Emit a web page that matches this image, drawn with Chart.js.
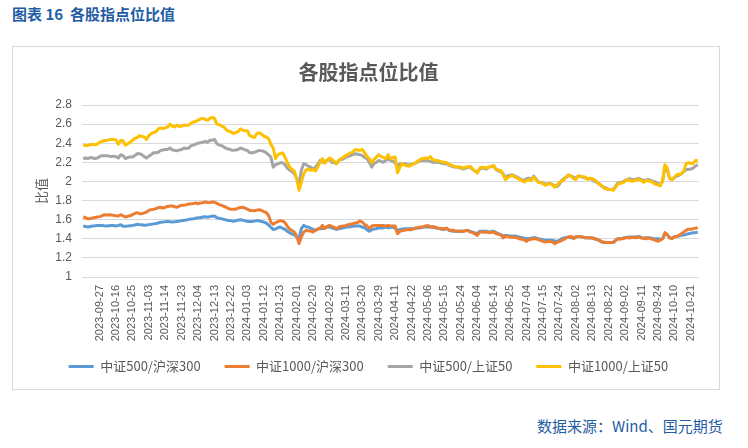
<!DOCTYPE html>
<html>
<head>
<meta charset="utf-8">
<script src="https://cdn.jsdelivr.net/npm/chart.js@4"></script>
<style>
  body { margin: 0; background: #fff; width: 748px; height: 448px; position: relative; overflow: hidden; }
  #hd { position: absolute; left: 12px; top: 3px; font: bold 15px "Noto Sans CJK SC", sans-serif; color: #1f5ca3; white-space: pre; }
  #box { position: absolute; left: 12px; top: 46px; width: 706px; height: 342px; border: 1px solid #d9d9d9; }
  #ft { position: absolute; left: 537px; top: 415px; font: 15px "Noto Sans CJK SC", sans-serif; color: #1f5ca3; }
</style>
</head>
<body>
<div id="hd">图表 16  各股指点位比值</div>
<div id="box"><canvas id="myChart" width="706" height="342"></canvas></div>
<div id="ft">数据来源：Wind、国元期货</div>
<script>
// 横轴每 7 个交易日标一个日期（第一个标签前还有 7 个交易日）
const tickLabels = ['2023-09-27', '2023-10-16', '2023-10-25', '2023-11-03', '2023-11-14', '2023-11-23', '2023-12-04',
  '2023-12-13', '2023-12-22', '2024-01-03', '2024-01-12', '2024-01-23', '2024-02-01', '2024-02-20', '2024-02-29',
  '2024-03-11', '2024-03-20', '2024-03-29', '2024-04-11', '2024-04-22', '2024-05-06', '2024-05-15', '2024-05-24',
  '2024-06-04', '2024-06-14', '2024-06-25', '2024-07-04', '2024-07-15', '2024-07-24', '2024-08-02', '2024-08-13',
  '2024-08-22', '2024-09-02', '2024-09-11', '2024-09-24', '2024-10-10', '2024-10-21'];
const firstTick = 7;
const tickStep = 7;

const seriesNames = ['中证500/沪深300', '中证1000/沪深300', '中证500/上证50', '中证1000/上证50'];
const seriesColors = ['#5B9BD5', '#ED7D31', '#A5A5A5', '#FFC000'];

// 中证500/沪深300
const zz500_hs300 = [
  1.533,1.528,1.523,1.528,1.533,1.536,1.540,1.538,1.540,1.536,
  1.533,1.537,1.540,1.538,1.533,1.540,1.547,1.530,1.532,1.533,
  1.537,1.540,1.545,1.551,1.548,1.547,1.540,1.545,1.548,1.551,
  1.556,1.560,1.565,1.573,1.575,1.578,1.582,1.577,1.575,1.578,
  1.582,1.585,1.588,1.593,1.597,1.603,1.607,1.610,1.615,1.620,
  1.620,1.628,1.631,1.625,1.632,1.636,1.638,1.620,1.614,1.610,
  1.603,1.596,1.592,1.590,1.582,1.588,1.595,1.600,1.595,1.588,
  1.582,1.582,1.580,1.585,1.590,1.588,1.580,1.575,1.565,1.545,
  1.520,1.498,1.502,1.515,1.523,1.510,1.500,1.478,1.462,1.450,
  1.443,1.420,1.400,1.506,1.540,1.525,1.523,1.510,1.498,1.488,
  1.500,1.506,1.506,1.515,1.523,1.523,1.515,1.506,1.498,1.505,
  1.510,1.515,1.523,1.523,1.527,1.530,1.533,1.533,1.533,1.523,
  1.515,1.495,1.478,1.495,1.503,1.506,1.512,1.512,1.516,1.523,
  1.516,1.520,1.523,1.512,1.488,1.496,1.502,1.506,1.506,1.506,
  1.506,1.508,1.512,1.512,1.516,1.523,1.523,1.523,1.523,1.523,
  1.516,1.512,1.506,1.500,1.498,1.506,1.488,1.482,1.478,1.478,
  1.478,1.478,1.478,1.486,1.484,1.478,1.470,1.462,1.453,1.478,
  1.478,1.478,1.478,1.470,1.475,1.478,1.464,1.453,1.445,1.430,
  1.436,1.433,1.430,1.430,1.428,1.425,1.415,1.410,1.405,1.400,
  1.400,1.405,1.410,1.410,1.400,1.395,1.390,1.384,1.384,1.384,
  1.384,1.378,1.373,1.384,1.400,1.408,1.414,1.418,1.410,1.413,
  1.418,1.425,1.420,1.418,1.410,1.410,1.408,1.408,1.400,1.390,
  1.384,1.366,1.362,1.360,1.360,1.360,1.365,1.384,1.400,1.400,
  1.405,1.410,1.415,1.418,1.418,1.418,1.420,1.425,1.410,1.408,
  1.410,1.410,1.408,1.400,1.400,1.400,1.398,1.400,1.453,1.443,
  1.410,1.408,1.418,1.425,1.430,1.436,1.440,1.446,1.453,1.458,
  1.462,1.464,1.470];

// 中证1000/沪深300
const zz1000_hs300 = [
  1.628,1.620,1.610,1.612,1.617,1.622,1.628,1.632,1.640,1.652,
  1.650,1.652,1.648,1.645,1.640,1.638,1.652,1.640,1.628,1.635,
  1.640,1.652,1.665,1.673,1.663,1.663,1.670,1.680,1.697,1.705,
  1.708,1.715,1.725,1.730,1.720,1.730,1.738,1.743,1.743,1.735,
  1.730,1.743,1.750,1.752,1.757,1.765,1.767,1.770,1.774,1.767,
  1.775,1.778,1.785,1.780,1.778,1.785,1.782,1.770,1.757,1.750,
  1.740,1.730,1.715,1.708,1.708,1.710,1.720,1.728,1.730,1.720,
  1.710,1.697,1.695,1.694,1.700,1.704,1.697,1.685,1.675,1.645,
  1.575,1.551,1.568,1.580,1.590,1.585,1.570,1.533,1.500,1.488,
  1.470,1.430,1.349,1.418,1.470,1.488,1.485,1.480,1.470,1.488,
  1.500,1.512,1.540,1.506,1.530,1.540,1.530,1.520,1.506,1.523,
  1.530,1.533,1.540,1.548,1.551,1.558,1.565,1.570,1.586,1.575,
  1.550,1.535,1.506,1.533,1.538,1.540,1.540,1.540,1.538,1.533,
  1.540,1.535,1.533,1.533,1.453,1.478,1.485,1.488,1.498,1.495,
  1.495,1.506,1.512,1.520,1.523,1.523,1.535,1.540,1.523,1.525,
  1.523,1.512,1.506,1.508,1.506,1.512,1.488,1.490,1.488,1.478,
  1.480,1.478,1.478,1.485,1.488,1.470,1.464,1.450,1.436,1.470,
  1.470,1.468,1.470,1.464,1.468,1.470,1.453,1.448,1.443,1.408,
  1.425,1.429,1.415,1.418,1.414,1.410,1.400,1.395,1.390,1.373,
  1.390,1.395,1.400,1.400,1.390,1.384,1.373,1.366,1.370,1.373,
  1.366,1.349,1.362,1.370,1.384,1.393,1.410,1.418,1.425,1.400,
  1.418,1.425,1.422,1.418,1.410,1.412,1.410,1.410,1.400,1.395,
  1.384,1.370,1.366,1.360,1.360,1.362,1.360,1.384,1.400,1.398,
  1.400,1.410,1.410,1.408,1.418,1.410,1.412,1.418,1.408,1.405,
  1.400,1.410,1.400,1.395,1.384,1.373,1.385,1.400,1.464,1.443,
  1.410,1.400,1.418,1.425,1.436,1.453,1.470,1.488,1.500,1.500,
  1.505,1.512,1.512];

// 中证500/上证50
const zz500_sz50 = [
  2.238,2.245,2.240,2.250,2.245,2.240,2.245,2.260,2.270,2.270,
  2.270,2.265,2.260,2.265,2.260,2.245,2.280,2.270,2.240,2.250,
  2.255,2.255,2.270,2.290,2.290,2.280,2.260,2.245,2.265,2.280,
  2.300,2.300,2.305,2.325,2.330,2.335,2.335,2.350,2.330,2.325,
  2.320,2.330,2.335,2.350,2.345,2.350,2.375,2.380,2.390,2.400,
  2.405,2.410,2.420,2.410,2.430,2.430,2.440,2.395,2.380,2.375,
  2.360,2.345,2.340,2.330,2.325,2.330,2.335,2.350,2.340,2.330,
  2.325,2.300,2.300,2.305,2.315,2.325,2.320,2.315,2.300,2.280,
  2.255,2.150,2.175,2.185,2.195,2.196,2.175,2.140,2.120,2.105,
  2.080,2.035,1.960,2.116,2.186,2.175,2.160,2.150,2.126,2.150,
  2.180,2.220,2.200,2.210,2.220,2.238,2.200,2.195,2.186,2.220,
  2.230,2.238,2.255,2.260,2.270,2.280,2.290,2.285,2.280,2.270,
  2.250,2.238,2.200,2.150,2.190,2.200,2.220,2.210,2.200,2.220,
  2.238,2.220,2.210,2.196,2.150,2.186,2.186,2.186,2.175,2.175,
  2.180,2.186,2.195,2.210,2.220,2.220,2.220,2.215,2.210,2.200,
  2.200,2.200,2.196,2.190,2.186,2.186,2.170,2.160,2.150,2.150,
  2.145,2.140,2.130,2.140,2.145,2.150,2.126,2.110,2.090,2.130,
  2.140,2.135,2.130,2.150,2.155,2.160,2.126,2.110,2.105,2.080,
  2.035,2.063,2.065,2.070,2.056,2.046,2.030,2.020,2.010,2.030,
  2.035,2.020,2.056,2.030,1.994,1.990,1.987,1.970,1.975,1.980,
  1.970,1.955,1.945,1.970,2.010,2.030,2.046,2.063,2.056,2.045,
  2.035,2.056,2.050,2.046,2.035,2.032,2.030,2.020,2.000,1.990,
  1.976,1.952,1.940,1.930,1.917,1.915,1.917,1.952,1.987,1.990,
  1.994,2.010,2.020,2.030,2.020,2.020,2.025,2.030,2.020,2.010,
  2.015,2.020,2.010,2.000,1.994,1.976,1.970,2.000,2.150,2.120,
  2.030,2.020,2.040,2.056,2.065,2.080,2.100,2.126,2.126,2.130,
  2.140,2.160,2.175];

// 中证1000/上证50
const zz1000_sz50 = [
  2.380,2.375,2.377,2.385,2.390,2.385,2.390,2.410,2.420,2.425,
  2.430,2.435,2.440,2.440,2.435,2.390,2.430,2.425,2.380,2.395,
  2.410,2.430,2.450,2.460,2.480,2.470,2.465,2.440,2.480,2.500,
  2.510,2.520,2.550,2.560,2.555,2.560,2.570,2.600,2.580,2.570,
  2.590,2.575,2.580,2.590,2.585,2.590,2.610,2.620,2.630,2.640,
  2.655,2.660,2.650,2.640,2.660,2.670,2.660,2.600,2.595,2.580,
  2.570,2.540,2.525,2.520,2.500,2.510,2.520,2.550,2.535,2.530,
  2.530,2.480,2.470,2.460,2.500,2.510,2.495,2.475,2.465,2.450,
  2.390,2.350,2.240,2.280,2.290,2.300,2.255,2.200,2.150,2.126,
  2.110,2.030,1.907,1.990,2.080,2.120,2.126,2.116,2.126,2.110,
  2.150,2.200,2.238,2.190,2.220,2.245,2.230,2.210,2.186,2.220,
  2.240,2.255,2.270,2.285,2.300,2.310,2.335,2.330,2.325,2.335,
  2.300,2.260,2.238,2.196,2.230,2.255,2.280,2.260,2.250,2.238,
  2.280,2.238,2.250,2.255,2.090,2.150,2.186,2.170,2.165,2.160,
  2.170,2.190,2.200,2.220,2.235,2.240,2.245,2.238,2.260,2.230,
  2.220,2.220,2.210,2.205,2.200,2.196,2.180,2.170,2.160,2.150,
  2.150,2.150,2.140,2.150,2.150,2.160,2.130,2.110,2.090,2.140,
  2.150,2.145,2.140,2.150,2.160,2.168,2.126,2.120,2.116,2.070,
  2.020,2.040,2.055,2.063,2.046,2.035,2.020,2.010,1.994,2.010,
  2.020,2.010,2.046,2.020,1.990,1.987,1.976,1.960,1.970,1.976,
  1.966,1.940,1.960,1.990,2.000,2.020,2.050,2.070,2.055,2.030,
  2.020,2.056,2.056,2.050,2.046,2.020,2.035,2.030,2.020,1.994,
  1.970,1.959,1.930,1.920,1.917,1.915,1.907,1.940,1.976,1.980,
  1.987,2.000,2.020,2.010,2.000,2.010,2.015,2.020,2.010,1.990,
  2.010,2.005,2.000,1.987,1.970,1.966,1.952,2.010,2.175,2.140,
  2.035,2.020,2.040,2.070,2.075,2.080,2.105,2.186,2.196,2.190,
  2.186,2.220,2.220];

const yMin = 1;
const yMax = 2.8;
const yStep = 0.2;

// 生成类别：只有每 7 个交易日的位置带日期文字
const labels = zz500_hs300.map((v, i) => {
  const k = (i - firstTick) / tickStep;
  return (i >= firstTick && Number.isInteger(k) && k < tickLabels.length) ? tickLabels[k] : '';
});

const allSeries = [zz500_hs300, zz1000_hs300, zz500_sz50, zz1000_sz50];

const datasets = allSeries.map((arr, i) => ({
  label: seriesNames[i],
  data: arr,
  borderColor: seriesColors[i],
  backgroundColor: seriesColors[i],
  borderWidth: 3,
  pointRadius: 0,
  tension: 0,
  borderJoinStyle: 'round',
  order: allSeries.length - i // 后面的系列画在上层（和 Excel 一样）
}));

// x 轴标签会被裁到轴的盒子里，所以轴要够高；图例再往上挪一点
const nudgeLegend = {
  id: 'nudgeLegend',
  afterLayout(chart) {
    chart.legend.top -= 6;
    chart.legend.bottom -= 6;
  }
};

const ctx = document.getElementById('myChart');
const grey = '#595959';

new Chart(ctx, {
  type: 'line',
  data: { labels: labels, datasets: datasets },
  plugins: [nudgeLegend],
  options: {
    responsive: false,
    animation: false,
    devicePixelRatio: 1,
    layout: { padding: { left: 20, right: 15, top: 0, bottom: 0 } },
    plugins: {
      title: {
        display: true,
        text: '各股指点位比值',
        color: grey,
        font: { family: '"Noto Sans CJK SC", sans-serif', size: 20, weight: 'bold' },
        padding: { top: 13, bottom: 21 }
      },
      legend: {
        position: 'bottom',
        labels: {
          usePointStyle: true,
          pointStyle: 'line',
          pointStyleWidth: 25,
          padding: 24,
          color: grey,
          font: { family: '"Noto Sans CJK SC", sans-serif', size: 13 },
          sort: (a, b) => a.datasetIndex - b.datasetIndex
        }
      },
      tooltip: { enabled: false }
    },
    scales: {
      x: {
        offset: true,
        grid: { display: false, drawTicks: false },
        border: { display: false },
        ticks: {
          autoSkip: false,
          minRotation: 90,
          maxRotation: 90,
          padding: 8,
          color: grey,
          font: { family: '"Liberation Sans", Arial, sans-serif', size: 11 }
        },
        afterFit: (scale) => { scale.height = 65; }
      },
      y: {
        min: yMin,
        max: yMax,
        grid: { color: '#d9d9d9', drawTicks: false },
        border: { display: false },
        ticks: {
          stepSize: yStep,
          padding: 10,
          color: grey,
          font: { family: '"Liberation Sans", Arial, sans-serif', size: 12 },
          callback: (v) => (Math.round(v * 10) / 10).toString()
        },
        title: {
          display: true,
          text: '比值',
          color: grey,
          padding: 0,
          font: { family: '"Noto Sans CJK SC", sans-serif', size: 13 }
        },
        afterFit: (scale) => { scale.width = 49; }
      }
    }
  }
});
</script>
</body>
</html>
